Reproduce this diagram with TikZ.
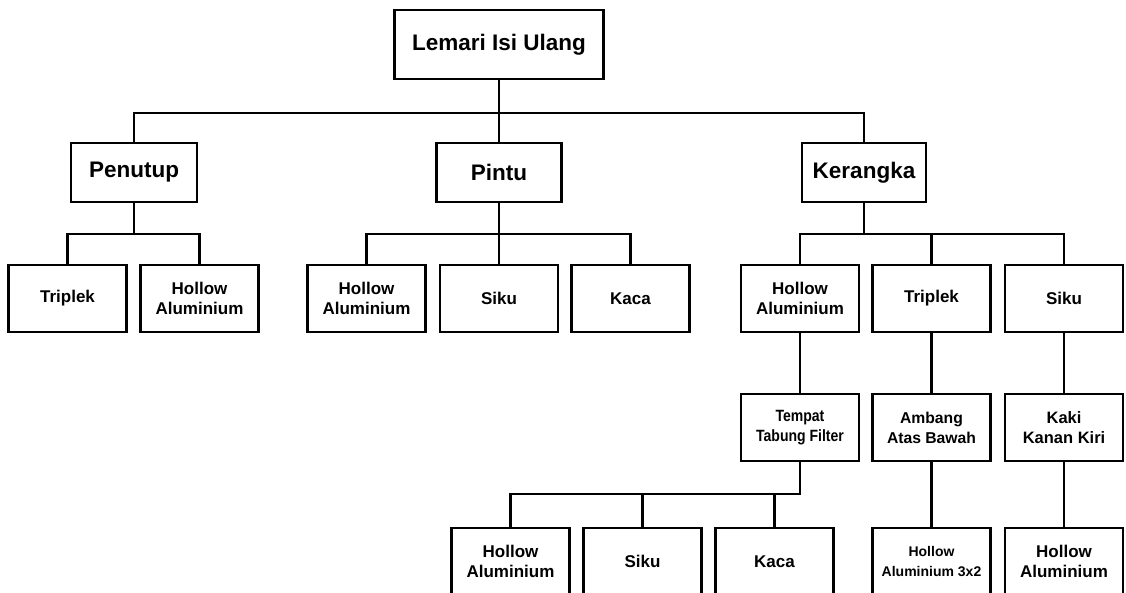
\documentclass[tikz,border=0pt]{standalone}
\usepackage{fontspec}
\setmainfont{Liberation Sans}
\newfontfamily\sempit[FakeStretch=0.86]{Liberation Sans}
\begin{document}
\begin{tikzpicture}[x=1pt, y=-1pt,
    kotak/.style={draw, line width=2.4pt, align=center, inner sep=0pt,
        minimum width=118pt, minimum height=67pt,
        font=\bfseries\fontsize{17}{20}\selectfont},
    induk/.style={kotak, minimum width=125pt, minimum height=59pt,
        font=\bfseries\fontsize{22.5}{27}\selectfont},
    garis/.style={line width=2.4pt}]
    \useasboundingbox (0,0) rectangle (1126,593);
    \clip (0,0) rectangle (1126,593);

    % Akar
    \node[induk, minimum width=209pt, minimum height=69pt] (lemari) at (499,44.5) {Lemari Isi Ulang};

    % Bagian utama
    \node[induk, minimum width=126pt] (penutup) at (134,172.5) {Penutup};
    \node[induk] (pintu) at (499,172.5) {Pintu};
    \node[induk, minimum width=124pt] (kerangka) at (864,172.5) {Kerangka};

    % Bahan tiap bagian
    \foreach \nama/\xv/\teks in {pnTriplek/67.5/Triplek, pnHollow/199.5/{Hollow\\Aluminium},
        ptHollow/366.5/{Hollow\\Aluminium}, ptSiku/499/Siku, ptKaca/630.5/Kaca,
        krHollow/800/{Hollow\\Aluminium}, krTriplek/931.5/Triplek, krSiku/1064/Siku}
        \node[kotak] (\nama) at (\xv,298.5) {\teks};

    % Komponen
    \node[kotak, font=\bfseries\sempit\fontsize{16.3}{20}\selectfont] (tempat) at (800,427.5) {Tempat\\Tabung Filter};
    \node[kotak, font=\bfseries\fontsize{15.7}{20}\selectfont] (ambang) at (931.5,427.5) {Ambang\\Atas Bawah};
    \node[kotak, font=\bfseries\fontsize{16.5}{20}\selectfont] (kaki) at (1064,427.5) {Kaki\\Kanan Kiri};

    % Bahan komponen
    \foreach \nama/\xv/\teks in {tpHollow/510.5/{Hollow\\Aluminium}, tpSiku/642.5/Siku,
        tpKaca/774.5/Kaca, kkHollow/1064/{Hollow\\Aluminium}}
        \node[kotak] (\nama) at (\xv,561.5) {\teks};
    \node[kotak, font=\bfseries\fontsize{14}{20}\selectfont] (amHollow) at (931.5,561.5) {Hollow\\Aluminium 3x2};

    % Garis penghubung
    \foreach \atas/\bawah/\dy in {lemari/penutup/33, lemari/pintu/33, lemari/kerangka/33,
        penutup/pnTriplek/31, penutup/pnHollow/31,
        pintu/ptHollow/31, pintu/ptSiku/31, pintu/ptKaca/31,
        kerangka/krHollow/31, kerangka/krTriplek/31, kerangka/krSiku/31,
        tempat/tpHollow/32, tempat/tpSiku/32, tempat/tpKaca/32}
        \draw[garis] (\atas.south) -- ++(0,\dy) -| (\bawah.north);

    \foreach \atas/\bawah in {krHollow/tempat, krTriplek/ambang, krSiku/kaki,
        ambang/amHollow, kaki/kkHollow}
        \draw[garis] (\atas) -- (\bawah);

\end{tikzpicture}
\end{document}
